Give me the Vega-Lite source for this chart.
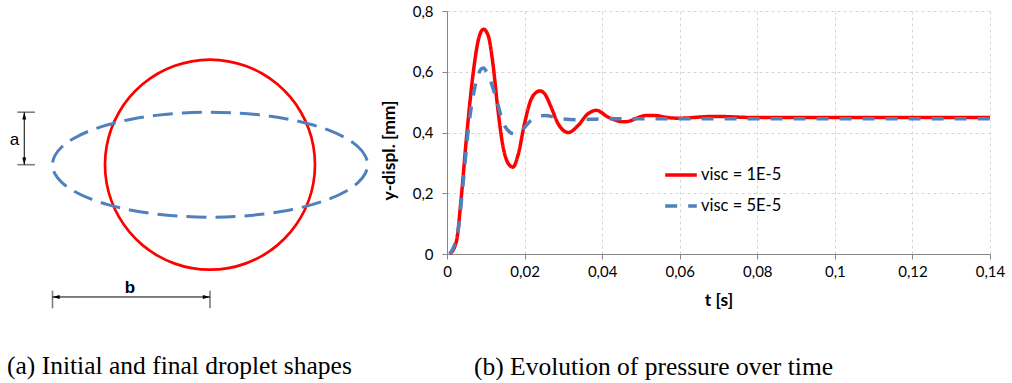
{
  "$schema": "https://vega.github.io/schema/vega-lite/v6.json",
  "padding": {"left": 0, "top": 4, "right": 5, "bottom": 0},
  "background": "white",
  "spacing": 0,
  "datasets": {
    "circle": [
      {"i":0,"x":1,"y":0},{"i":10,"x":0.9848,"y":0.1736},{"i":20,"x":0.9397,"y":0.342},{"i":30,"x":0.866,"y":0.5},
      {"i":40,"x":0.766,"y":0.6428},{"i":50,"x":0.6428,"y":0.766},{"i":60,"x":0.5,"y":0.866},{"i":70,"x":0.342,"y":0.9397},
      {"i":80,"x":0.1736,"y":0.9848},{"i":90,"x":0,"y":1},{"i":100,"x":-0.1736,"y":0.9848},{"i":110,"x":-0.342,"y":0.9397},
      {"i":120,"x":-0.5,"y":0.866},{"i":130,"x":-0.6428,"y":0.766},{"i":140,"x":-0.766,"y":0.6428},{"i":150,"x":-0.866,"y":0.5},
      {"i":160,"x":-0.9397,"y":0.342},{"i":170,"x":-0.9848,"y":0.1736},{"i":180,"x":-1,"y":0},{"i":190,"x":-0.9848,"y":-0.1736},
      {"i":200,"x":-0.9397,"y":-0.342},{"i":210,"x":-0.866,"y":-0.5},{"i":220,"x":-0.766,"y":-0.6428},{"i":230,"x":-0.6428,"y":-0.766},
      {"i":240,"x":-0.5,"y":-0.866},{"i":250,"x":-0.342,"y":-0.9397},{"i":260,"x":-0.1736,"y":-0.9848},{"i":270,"x":0,"y":-1},
      {"i":280,"x":0.1736,"y":-0.9848},{"i":290,"x":0.342,"y":-0.9397},{"i":300,"x":0.5,"y":-0.866},{"i":310,"x":0.6428,"y":-0.766},
      {"i":320,"x":0.766,"y":-0.6428},{"i":330,"x":0.866,"y":-0.5},{"i":340,"x":0.9397,"y":-0.342},{"i":350,"x":0.9848,"y":-0.1736}
    ],
    "ellipse": [
      {"i":0,"x":1.5,"y":0},{"i":10,"x":1.4772,"y":0.0868},{"i":20,"x":1.4095,"y":0.171},{"i":30,"x":1.299,"y":0.25},
      {"i":40,"x":1.149,"y":0.3214},{"i":50,"x":0.9642,"y":0.383},{"i":60,"x":0.75,"y":0.433},{"i":70,"x":0.513,"y":0.4699},
      {"i":80,"x":0.2604,"y":0.4924},{"i":90,"x":0,"y":0.5},{"i":100,"x":-0.2604,"y":0.4924},{"i":110,"x":-0.513,"y":0.4699},
      {"i":120,"x":-0.75,"y":0.433},{"i":130,"x":-0.9642,"y":0.383},{"i":140,"x":-1.149,"y":0.3214},{"i":150,"x":-1.299,"y":0.25},
      {"i":160,"x":-1.4095,"y":0.171},{"i":170,"x":-1.4772,"y":0.0868},{"i":180,"x":-1.5,"y":0},{"i":190,"x":-1.4772,"y":-0.0868},
      {"i":200,"x":-1.4095,"y":-0.171},{"i":210,"x":-1.299,"y":-0.25},{"i":220,"x":-1.149,"y":-0.3214},{"i":230,"x":-0.9642,"y":-0.383},
      {"i":240,"x":-0.75,"y":-0.433},{"i":250,"x":-0.513,"y":-0.4699},{"i":260,"x":-0.2604,"y":-0.4924},{"i":270,"x":0,"y":-0.5},
      {"i":280,"x":0.2604,"y":-0.4924},{"i":290,"x":0.513,"y":-0.4699},{"i":300,"x":0.75,"y":-0.433},{"i":310,"x":0.9642,"y":-0.383},
      {"i":320,"x":1.149,"y":-0.3214},{"i":330,"x":1.299,"y":-0.25},{"i":340,"x":1.4095,"y":-0.171},{"i":350,"x":1.4772,"y":-0.0868}
    ],
    "dimlines": [
      {"x":-1.769,"y":0.5,"x2":-1.769,"y2":0},
      {"x":-1.5,"y":-1.26,"x2":0,"y2":-1.26}
    ],
    "dimticks": [
      {"x":-1.835,"y":0.5,"x2":-1.667,"y2":0.5},
      {"x":-1.835,"y":0,"x2":-1.667,"y2":0},
      {"x":-1.5,"y":-1.2,"x2":-1.5,"y2":-1.368},
      {"x":0,"y":-1.2,"x2":0,"y2":-1.368}
    ],
    "arrows": [
      {"x":-1.769,"y":0.5,"dir":"up"},
      {"x":-1.769,"y":0,"dir":"down"},
      {"x":-1.5,"y":-1.26,"dir":"left"},
      {"x":0,"y":-1.26,"dir":"right"}
    ],
    "labels": [
      {"x":-1.862,"y":0.235,"label":"a","bold":false},
      {"x":-0.762,"y":-1.174,"label":"b","bold":true}
    ],
    "series": [
      {"s":"visc = 1E-5","t":0.0007,"v":0},{"s":"visc = 1E-5","t":0.0024,"v":0.04},{"s":"visc = 1E-5","t":0.0037,"v":0.19},
      {"s":"visc = 1E-5","t":0.005,"v":0.38},{"s":"visc = 1E-5","t":0.0067,"v":0.59},{"s":"visc = 1E-5","t":0.008,"v":0.70},
      {"s":"visc = 1E-5","t":0.0094,"v":0.74},{"s":"visc = 1E-5","t":0.0106,"v":0.72},{"s":"visc = 1E-5","t":0.0119,"v":0.62},
      {"s":"visc = 1E-5","t":0.0131,"v":0.478},{"s":"visc = 1E-5","t":0.0144,"v":0.357},{"s":"visc = 1E-5","t":0.0157,"v":0.30},
      {"s":"visc = 1E-5","t":0.017,"v":0.286},{"s":"visc = 1E-5","t":0.0183,"v":0.325},{"s":"visc = 1E-5","t":0.02,"v":0.43},
      {"s":"visc = 1E-5","t":0.0215,"v":0.503},{"s":"visc = 1E-5","t":0.0228,"v":0.53},{"s":"visc = 1E-5","t":0.024,"v":0.537},
      {"s":"visc = 1E-5","t":0.0252,"v":0.527},{"s":"visc = 1E-5","t":0.0268,"v":0.485},
      {"s":"visc = 1E-5","t":0.0286,"v":0.43},{"s":"visc = 1E-5","t":0.0313,"v":0.40},{"s":"visc = 1E-5","t":0.0338,"v":0.423},
      {"s":"visc = 1E-5","t":0.0362,"v":0.46},{"s":"visc = 1E-5","t":0.0385,"v":0.473},{"s":"visc = 1E-5","t":0.0415,"v":0.451},
      {"s":"visc = 1E-5","t":0.0458,"v":0.435},{"s":"visc = 1E-5","t":0.0514,"v":0.456},{"s":"visc = 1E-5","t":0.0535,"v":0.456},
      {"s":"visc = 1E-5","t":0.057,"v":0.449},{"s":"visc = 1E-5","t":0.0595,"v":0.447},{"s":"visc = 1E-5","t":0.069,"v":0.453},
      {"s":"visc = 1E-5","t":0.08,"v":0.449},{"s":"visc = 1E-5","t":0.1,"v":0.449},{"s":"visc = 1E-5","t":0.12,"v":0.449},
      {"s":"visc = 1E-5","t":0.14,"v":0.449},
      {"s":"visc = 5E-5","t":0.0007,"v":0},{"s":"visc = 5E-5","t":0.0028,"v":0.072},{"s":"visc = 5E-5","t":0.0041,"v":0.226},
      {"s":"visc = 5E-5","t":0.0054,"v":0.40},{"s":"visc = 5E-5","t":0.0071,"v":0.544},{"s":"visc = 5E-5","t":0.0093,"v":0.612},
      {"s":"visc = 5E-5","t":0.011,"v":0.577},{"s":"visc = 5E-5","t":0.0127,"v":0.511},{"s":"visc = 5E-5","t":0.0148,"v":0.423},
      {"s":"visc = 5E-5","t":0.0173,"v":0.396},{"s":"visc = 5E-5","t":0.0192,"v":0.407},{"s":"visc = 5E-5","t":0.0217,"v":0.44},
      {"s":"visc = 5E-5","t":0.0252,"v":0.456},{"s":"visc = 5E-5","t":0.0295,"v":0.445},{"s":"visc = 5E-5","t":0.0338,"v":0.442},
      {"s":"visc = 5E-5","t":0.04,"v":0.445},{"s":"visc = 5E-5","t":0.06,"v":0.445},{"s":"visc = 5E-5","t":0.08,"v":0.445},
      {"s":"visc = 5E-5","t":0.1,"v":0.445},{"s":"visc = 5E-5","t":0.12,"v":0.445},{"s":"visc = 5E-5","t":0.14,"v":0.445}
    ]
  },
  "hconcat": [
    {
      "width": 380,
      "height": 320,
      "title": {"text": "(a) Initial and final droplet shapes", "orient": "bottom", "anchor": "start", "frame": "group", "dx": 7, "offset": 43, "baseline": "alphabetic", "font": "Liberation Serif", "fontSize": 25.5, "fontWeight": "normal", "color": "black"},
      "layer": [
        {
          "data": {"name": "circle"},
          "mark": {"type": "line", "interpolate": "cardinal-closed", "color": "#ff0000", "strokeWidth": 2.7},
          "encoding": {
            "x": {"field": "x", "type": "quantitative", "scale": {"domain": [-2, 1.619], "nice": false, "zero": false}, "axis": null},
            "y": {"field": "y", "type": "quantitative", "scale": {"domain": [-1.584, 1.464], "nice": false, "zero": false}, "axis": null},
            "order": {"field": "i", "type": "quantitative"}
          }
        },
        {
          "data": {"name": "ellipse"},
          "mark": {"type": "line", "interpolate": "cardinal-closed", "color": "#4f81bd", "strokeWidth": 3, "strokeDash": [20, 9]},
          "encoding": {
            "x": {"field": "x", "type": "quantitative"},
            "y": {"field": "y", "type": "quantitative"},
            "order": {"field": "i", "type": "quantitative"}
          }
        },
        {
          "data": {"name": "dimticks"},
          "mark": {"type": "rule", "color": "#7f7f7f", "strokeWidth": 1.6},
          "encoding": {
            "x": {"field": "x", "type": "quantitative"},
            "y": {"field": "y", "type": "quantitative"},
            "x2": {"field": "x2"},
            "y2": {"field": "y2"}
          }
        },
        {
          "data": {"name": "dimlines"},
          "mark": {"type": "rule", "color": "black", "strokeWidth": 1},
          "encoding": {
            "x": {"field": "x", "type": "quantitative"},
            "y": {"field": "y", "type": "quantitative"},
            "x2": {"field": "x2"},
            "y2": {"field": "y2"}
          }
        },
        {
          "data": {"name": "arrows"},
          "mark": {"type": "point", "filled": true, "color": "black", "opacity": 1, "size": 36},
          "encoding": {
            "x": {"field": "x", "type": "quantitative"},
            "y": {"field": "y", "type": "quantitative"},
            "shape": {"field": "dir", "type": "nominal", "legend": null,
              "scale": {"domain": ["up", "down", "left", "right"],
                        "range": ["M0,0L-0.65,2.4L0.65,2.4Z", "M0,0L-0.65,-2.4L0.65,-2.4Z", "M0,0L2.4,-0.65L2.4,0.65Z", "M0,0L-2.4,-0.65L-2.4,0.65Z"]}}
          }
        },
        {
          "data": {"name": "labels"},
          "transform": [{"filter": "!datum.bold"}],
          "mark": {"type": "text", "font": "Liberation Sans", "fontSize": 17, "color": "black", "align": "center", "baseline": "middle"},
          "encoding": {
            "x": {"field": "x", "type": "quantitative"},
            "y": {"field": "y", "type": "quantitative"},
            "text": {"field": "label"}
          }
        },
        {
          "data": {"name": "labels"},
          "transform": [{"filter": "datum.bold"}],
          "mark": {"type": "text", "font": "Liberation Sans", "fontSize": 17, "fontWeight": "bold", "color": "black", "align": "center", "baseline": "middle"},
          "encoding": {
            "x": {"field": "x", "type": "quantitative"},
            "y": {"field": "y", "type": "quantitative"},
            "text": {"field": "label"}
          }
        }
      ]
    },
    {
      "width": 543,
      "height": 243,
      "title": {"text": "(b) Evolution of pressure over time", "orient": "bottom", "anchor": "start", "frame": "group", "dx": 27, "offset": 66, "baseline": "alphabetic", "font": "Liberation Serif", "fontSize": 25.5, "fontWeight": "normal", "color": "black"},
      "data": {"name": "series"},
      "encoding": {
        "x": {"field": "t", "type": "quantitative",
          "scale": {"domain": [0, 0.14], "nice": false},
          "axis": {"values": [0, 0.02, 0.04, 0.06, 0.08, 0.1, 0.12, 0.14],
            "labelExpr": "replace(format(datum.value, '~f'), '.', ',')",
            "title": "t [s]", "titleFont": "Lato", "titleFontSize": 17.5, "titleFontWeight": "bold", "titleColor": "black",
            "titleY": 46, "titleBaseline": "middle",
            "labelFont": "Lato", "labelFontSize": 15, "labelColor": "black", "labelPadding": 5, "labelFlush": false,
            "tickSize": 5, "tickColor": "#868686", "domainColor": "#868686",
            "gridColor": "#d6d6d6", "gridDash": [3, 3]}},
        "y": {"field": "v", "type": "quantitative",
          "scale": {"domain": [0, 0.8], "nice": false},
          "axis": {"values": [0, 0.2, 0.4, 0.6, 0.8],
            "labelExpr": "replace(format(datum.value, '~f'), '.', ',')",
            "title": "y-displ. [mm]", "titleFont": "Lato", "titleFontSize": 17.5, "titleFontWeight": "bold", "titleColor": "black",
            "titleX": -58, "titleY": 139, "titleBaseline": "middle", "titleAngle": -90, "titleAlign": "center",
            "labelFont": "Lato", "labelFontSize": 15, "labelColor": "black", "labelPadding": 9,
            "tickSize": 5, "tickColor": "#868686", "domainColor": "#868686",
            "gridColor": "#d6d6d6", "gridDash": [3, 3]}},
        "color": {"field": "s", "type": "nominal",
          "scale": {"domain": ["visc = 1E-5", "visc = 5E-5"], "range": ["#ff0000", "#4f81bd"]},
          "legend": {"orient": "none", "legendX": 663, "legendY": 146, "title": null, "symbolType": "stroke",
            "symbolSize": 1000, "symbolStrokeWidth": 3.5, "labelFont": "Lato", "labelFontSize": 16.5, "labelColor": "black",
            "labelOffset": 2, "rowPadding": 4, "padding": 0}},
        "strokeDash": {"field": "s", "type": "nominal",
          "scale": {"domain": ["visc = 1E-5", "visc = 5E-5"], "range": [[1, 0], [12, 11]]}, "legend": null}
      },
      "layer": [
        {
          "transform": [{"filter": "datum.s == 'visc = 1E-5'"}],
          "mark": {"type": "line", "interpolate": "monotone", "strokeWidth": 3.5}
        },
        {
          "transform": [{"filter": "datum.s == 'visc = 5E-5'"}],
          "mark": {"type": "line", "interpolate": "monotone", "strokeWidth": 3.5}
        }
      ]
    }
  ],
  "config": {"view": {"stroke": null}}
}
